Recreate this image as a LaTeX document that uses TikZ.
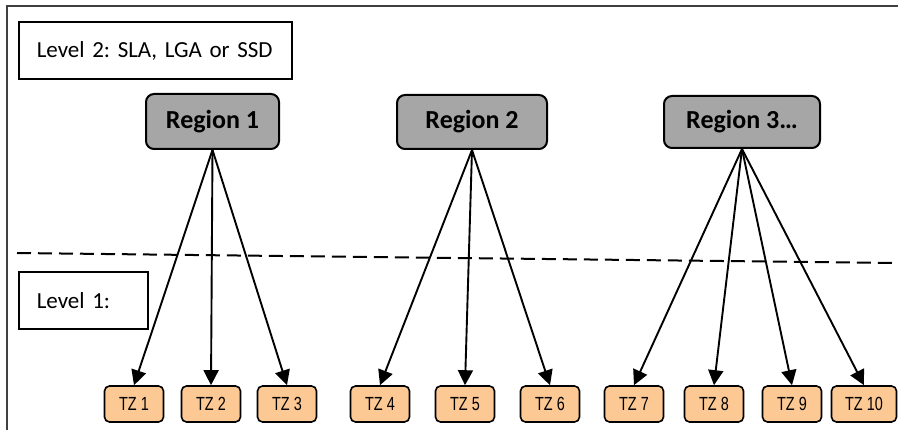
\documentclass[tikz,border=0pt]{standalone}
\usepackage{fontspec}
\setmainfont{Carlito}
\newfontfamily\tzfont{Liberation Sans}
\usetikzlibrary{arrows.meta}
\definecolor{framegray}{HTML}{404040}
\definecolor{regionfill}{HTML}{A6A6A6}
\definecolor{tzfill}{HTML}{FCC894}
\tikzset{
  levelbox/.style={draw=black, line width=1.5pt, fill=white, minimum height=57pt,
    inner xsep=18pt, align=left, anchor=west, font=\frenchspacing\fontsize{23}{26}\selectfont},
  regionbox/.style={draw=black, line width=2pt, fill=regionfill, rounded corners=8pt,
    font=\bfseries\fontsize{26}{28}\selectfont},
  tzbox/.style={draw=black, line width=1.6pt, fill=tzfill, rounded corners=5pt,
    minimum width=59pt, minimum height=36pt, inner sep=0pt},
  link/.style={line width=1.9pt, -{Triangle[length=15pt,width=15pt]}},
}
\newcommand{\tzlabel}[1]{\scalebox{0.76}[1]{\tzfont\fontsize{19}{20}\selectfont #1}}
\begin{document}
\begin{tikzpicture}[x=1pt, y=-1pt]
  \useasboundingbox (0,0) rectangle (898,430);
  % outer frame (top and left edges)
  \draw[framegray, line width=2.4pt] (7,431) -- (7,6) -- (899,6);

  % level boundary
  \draw[black, line width=2pt, dash pattern=on 14pt off 7pt] (17,253) -- (898,263);

  % level labels
  \node[levelbox, minimum width=273pt, text width=237pt] (lv2) at (18,50.5) {Level 2: SLA, LGA or SSD};
  \node[levelbox, minimum width=129pt, text width=93pt] (lv1) at (18,300.5) {Level 1:};

  % regions
  \node[regionbox, minimum width=133pt, minimum height=55pt] (r1) at (212.5,121.5) {Region 1};
  \node[regionbox, minimum width=150pt, minimum height=54pt] (r2) at (472,122) {Region 2};
  \node[regionbox, minimum width=156pt, minimum height=52pt] (r3) at (742,122) {Region 3\ldots};

  % traffic zones
  \node[tzbox] (tz1) at (134,404) {\tzlabel{TZ 1}};
  \node[tzbox] (tz2) at (211,404) {\tzlabel{TZ 2}};
  \node[tzbox] (tz3) at (287,404) {\tzlabel{TZ 3}};
  \node[tzbox] (tz4) at (380,404) {\tzlabel{TZ 4}};
  \node[tzbox] (tz5) at (465,404) {\tzlabel{TZ 5}};
  \node[tzbox] (tz6) at (550,404) {\tzlabel{TZ 6}};
  \node[tzbox] (tz7) at (634,404) {\tzlabel{TZ 7}};
  \node[tzbox] (tz8) at (714,404) {\tzlabel{TZ 8}};
  \node[tzbox] (tz9) at (792,404) {\tzlabel{TZ 9}};
  \node[tzbox, minimum width=65pt] (tz10) at (864,404) {\tzlabel{TZ 10}};

  % region to zone links
  \foreach \t in {tz1,tz2,tz3} \draw[link] (r1.south) -- (\t.north);
  \foreach \t in {tz4,tz5,tz6} \draw[link] (r2.south) -- (\t.north);
  \foreach \t in {tz7,tz8,tz9,tz10} \draw[link] (r3.south) -- (\t.north);
\end{tikzpicture}
\end{document}
